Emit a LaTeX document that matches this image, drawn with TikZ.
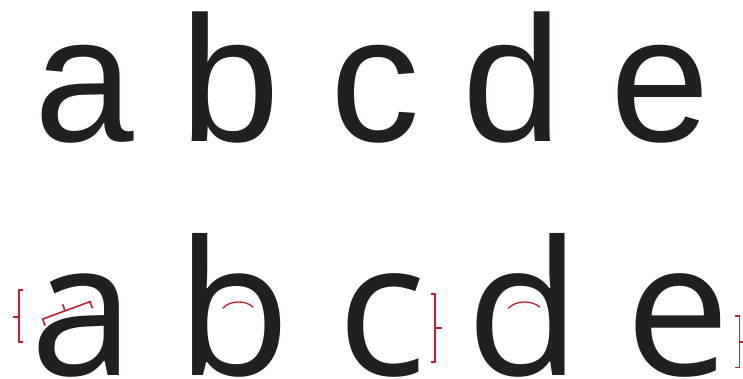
\documentclass[tikz,border=0pt]{standalone}
\usepackage{fontspec}
\usepackage{tikz}
\usetikzlibrary{positioning, calc}
\newfontfamily\grotFont{Liberation Sans}
\newfontfamily\humFont{Open Sans}
\definecolor{inkBlack}{RGB}{35,31,32}
\definecolor{markRed}{RGB}{190,32,44}
\tikzset{
    grotLetter/.style={anchor=base, inner sep=0pt, text=inkBlack, font=\fontsize{179}{179}\grotFont},
    humLetter/.style={anchor=base, inner sep=0pt, text=inkBlack, font=\fontsize{187}{187}\humFont},
    markLine/.style={draw=markRed, line width=1.6pt},
    markArc/.style={draw=markRed, line width=1.3pt}
}
\begin{document}
\begin{tikzpicture}[x=1pt, y=-1pt]

        % Canvas (image coordinates, y downwards)
        \useasboundingbox (0,0) rectangle (743,379);

        % 1. Upper row: grotesque letters
        \foreach \ch/\xc in {a/84, b/230, c/375, d/512, e/660} {
            \node[grotLetter] (g\ch) at (\xc,142) {\ch};
        }

        % 2. Lower row: humanist letters
        \foreach \ch/\xc in {a/82, b/234, c/382, d/524, e/678} {
            \node[humLetter] (h\ch) at (\xc,375) {\ch};
        }

        % 3. Marks on the lower row
        % bracket left of a
        \draw[markLine] (23,290) -- (19,290) -- (19,342) -- (23,342);
        \draw[markLine] (19,317) -- (13,317);
        % slanted bracket inside a
        \draw[markLine] (45,325.6) -- (42.7,319) -- (90,301.7) -- (92.4,308.3);
        \draw[markLine] (65,310.9) -- (62.6,304.3);
        % arcs in b and d
        \draw[markArc] (222.7,308.3) .. controls (230,300) and (246,300) .. (253.3,307.3);
        \draw[markArc] (508.3,308.3) .. controls (516,300) and (532,300) .. (540,307.3);
        % bracket right of c
        \draw[markLine] (431,294) -- (435,294) -- (435,361.7) -- (431,361.7);
        \draw[markLine] (435,327.7) -- (441.7,327.7);
        % bracket right of e
        \draw[markLine] (735,316) -- (739.3,316) -- (739.3,367.3) -- (735,367.3);
        \draw[markLine] (739.3,341.7) -- (743,341.7);

    \end{tikzpicture}
\end{document}
